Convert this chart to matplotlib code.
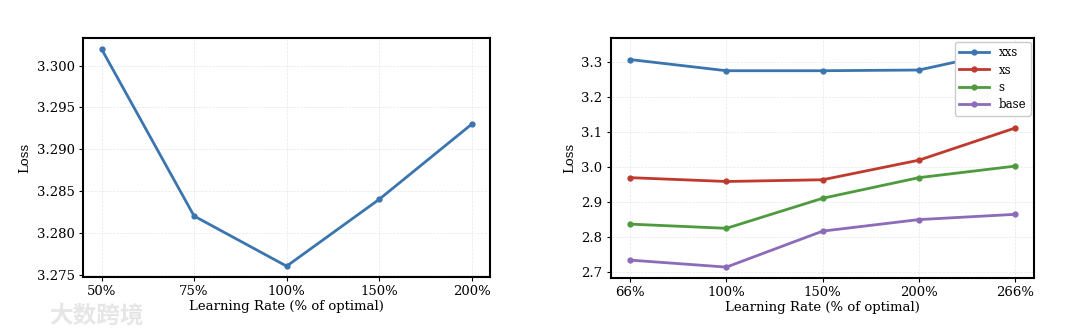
import matplotlib
matplotlib.use("Agg")
import matplotlib.pyplot as plt

# left panel: single model, learning rate sweep
lr_left = ['50%', '75%', '100%', '150%', '200%']
loss_left = [3.302, 3.282, 3.276, 3.284, 3.293]

# right panel: model sizes
lr_right = ['66%', '100%', '150%', '200%', '266%']
loss_xxs = [3.308, 3.276, 3.276, 3.278, 3.338]
loss_xs = [2.970, 2.959, 2.964, 3.020, 3.112]
loss_s = [2.837, 2.825, 2.911, 2.970, 3.003]
loss_base = [2.734, 2.714, 2.817, 2.850, 2.865]

plt.rcParams['font.family'] = 'DejaVu Serif'
plt.rcParams['font.size'] = 9.5

blue = '#3B75AF'
red = '#C0392F'
green = '#4E9A3E'
purple = '#8C6BB8'

fig = plt.figure(figsize=(10.8, 3.29), dpi=100)
ax1 = fig.add_axes([0.0769, 0.158, 0.377, 0.726])
ax2 = fig.add_axes([0.5657, 0.155, 0.392, 0.729])

ax1.plot(range(len(lr_left)), loss_left, color=blue, lw=2, marker='o', ms=3.5)
ax1.set_xticks(range(len(lr_left)))
ax1.set_xticklabels(lr_left)
ax1.set_yticks([3.275, 3.280, 3.285, 3.290, 3.295, 3.300])
ax1.yaxis.set_major_formatter(matplotlib.ticker.FormatStrFormatter('%.3f'))

series = [('xxs', loss_xxs, blue), ('xs', loss_xs, red),
          ('s', loss_s, green), ('base', loss_base, purple)]
for name, vals, c in series:
    ax2.plot(range(len(lr_right)), vals, color=c, lw=2, marker='o', ms=3.5, label=name)
ax2.set_xticks(range(len(lr_right)))
ax2.set_xticklabels(lr_right)
ax2.set_yticks([2.7, 2.8, 2.9, 3.0, 3.1, 3.2, 3.3])
ax2.legend(loc='upper right', fontsize=8.5, handlelength=2.5, borderaxespad=0.3,
           labelspacing=0.35, framealpha=1, edgecolor='#cccccc', fancybox=True)

for ax in (ax1, ax2):
    ax.grid(True, color='#dddddd', linestyle='--', linewidth=0.5, alpha=0.7)
    ax.set_axisbelow(True)
    for sp in ax.spines.values():
        sp.set_linewidth(1.5)
        sp.set_color('black')
    ax.set_xlabel('Learning Rate (% of optimal)', labelpad=1)
    ax.set_ylabel('Loss')
    ax.tick_params(length=3, pad=3)

# watermark
fig.text(0.045, 0.02, '\u5927\u6570\u8de8\u5883', fontsize=17, color='#e6e6e6',
         family=['Noto Sans CJK SC', 'DejaVu Sans'], fontweight='bold')

fig.savefig('out.png', dpi=100)
